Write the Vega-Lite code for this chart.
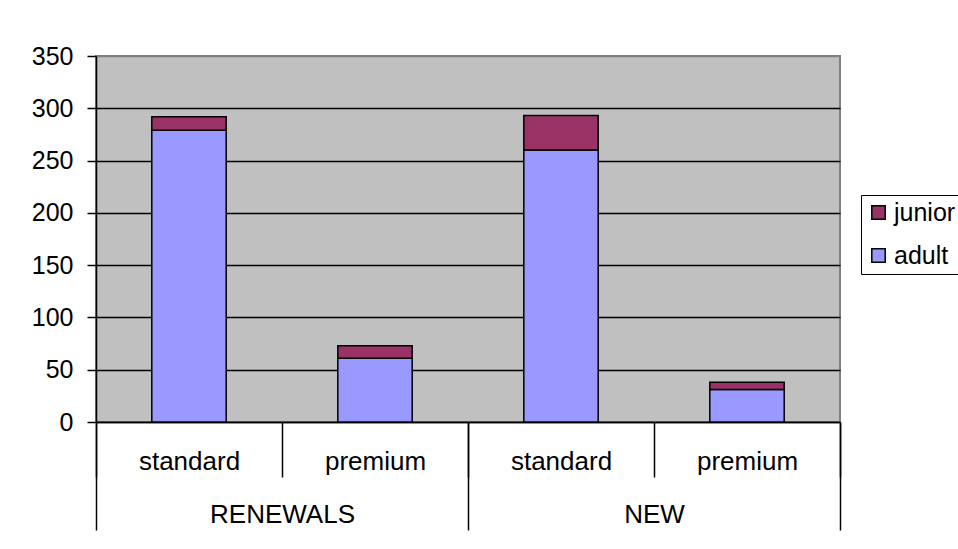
{
  "$schema": "https://vega.github.io/schema/vega-lite/v6.json",
  "autosize": "none",
  "width": 744,
  "height": 366,
  "padding": {"left": 96, "top": 56, "right": 118, "bottom": 127},
  "background": "white",
  "config": {
    "font": "Liberation Sans",
    "view": {"fill": "#C0C0C0", "stroke": "#808080", "strokeWidth": 2},
    "axis": {"labelFont": "Liberation Sans", "labelColor": "black", "tickColor": "black", "domainColor": "black"},
    "legend": {"labelFont": "Liberation Sans"}
  },
  "datasets": {
    "bars": [
      {"cat": "RENEWALS standard", "group": "RENEWALS", "plan": "standard", "type": "adult", "value": 279},
      {"cat": "RENEWALS standard", "group": "RENEWALS", "plan": "standard", "type": "junior", "value": 13},
      {"cat": "RENEWALS premium", "group": "RENEWALS", "plan": "premium", "type": "adult", "value": 61},
      {"cat": "RENEWALS premium", "group": "RENEWALS", "plan": "premium", "type": "junior", "value": 12},
      {"cat": "NEW standard", "group": "NEW", "plan": "standard", "type": "adult", "value": 260},
      {"cat": "NEW standard", "group": "NEW", "plan": "standard", "type": "junior", "value": 33},
      {"cat": "NEW premium", "group": "NEW", "plan": "premium", "type": "adult", "value": 31},
      {"cat": "NEW premium", "group": "NEW", "plan": "premium", "type": "junior", "value": 7}
    ],
    "groups": [
      {"group": "RENEWALS"},
      {"group": "NEW"}
    ]
  },
  "layer": [
    {
      "data": {"name": "bars"},
      "mark": {"type": "bar", "width": {"band": 0.4}, "stroke": "black", "strokeWidth": 1.5},
      "encoding": {
        "x": {
          "field": "cat",
          "type": "nominal",
          "sort": ["RENEWALS standard", "RENEWALS premium", "NEW standard", "NEW premium"],
          "scale": {"paddingInner": 0, "paddingOuter": 0},
          "axis": {
            "title": null,
            "orient": "bottom",
            "labelAngle": 0,
            "labelExpr": "split(datum.value, ' ')[1]",
            "labelFontSize": 26,
            "labelBaseline": "alphabetic",
            "tickBand": "extent",
            "tickSize": 55,
            "tickWidth": 1.5,
            "labelPadding": -8,
            "domainWidth": 1.5,
            "labelOverlap": false,
            "labelBound": false,
            "grid": false
          }
        },
        "y": {
          "field": "value",
          "type": "quantitative",
          "stack": "zero",
          "scale": {"domain": [0, 350], "nice": false},
          "axis": {
            "title": null,
            "values": [0, 50, 100, 150, 200, 250, 300, 350],
            "labelFontSize": 25,
            "tickSize": 9,
            "tickWidth": 1.5,
            "labelPadding": 14,
            "domainWidth": 1.5,
            "grid": true,
            "gridColor": {"condition": {"test": "datum.value === 350", "value": "#808080"}, "value": "black"},
            "gridWidth": 1.5,
            "gridOpacity": 1
          }
        },
        "color": {
          "field": "type",
          "type": "nominal",
          "scale": {"domain": ["junior", "adult"], "range": ["#993366", "#9999FF"]},
          "legend": {
            "title": null,
            "orient": "none",
            "legendX": 765,
            "legendY": 139,
            "strokeColor": "black",
            "padding": 5,
            "symbolType": "square",
            "symbolSize": 180,
            "symbolStrokeColor": "black",
            "symbolStrokeWidth": 1.5,
            "labelFontSize": 25,
            "labelOffset": 3,
            "rowPadding": 17,
            "labelColor": "black"
          }
        },
        "order": {"field": "type", "sort": "ascending"}
      }
    },
    {
      "data": {"name": "groups"},
      "mark": {"type": "rule", "opacity": 0},
      "encoding": {
        "x": {
          "field": "group",
          "type": "nominal",
          "sort": ["RENEWALS", "NEW"],
          "scale": {"paddingInner": 0, "paddingOuter": 0},
          "axis": {
            "title": null,
            "orient": "bottom",
            "labelAngle": 0,
            "labelFontSize": 26,
            "labelBaseline": "alphabetic",
            "tickBand": "extent",
            "tickSize": 108,
            "tickWidth": 1.5,
            "labelPadding": -8,
            "domain": false,
            "labelOverlap": false,
            "labelBound": false,
            "grid": false
          }
        }
      }
    }
  ],
  "resolve": {"scale": {"x": "independent"}, "axis": {"x": "independent"}}
}
